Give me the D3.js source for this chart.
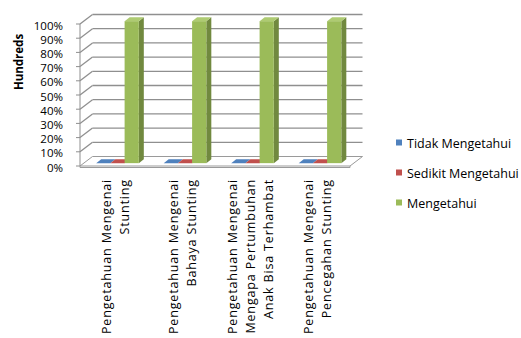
<!DOCTYPE html>
<html><head><meta charset="utf-8">
<script src="https://cdn.jsdelivr.net/npm/d3@7"></script>
<style>body{margin:0;background:#fff}svg{display:block}text{font-family:"Open Sans",sans-serif;fill:#000}</style>
</head><body>
<svg id="c" width="521" height="338"></svg>
<script>
const categories = [
  ["Pengetahuan Mengenai","Stunting"],
  ["Pengetahuan Mengenai","Bahaya Stunting"],
  ["Pengetahuan Mengenai","Mengapa Pertumbuhan","Anak Bisa Terhambat"],
  ["Pengetahuan Mengenai","Pencegahan Stunting"]
];
const seriesNames = ["Tidak Mengetahui","Sedikit Mengetahui","Mengetahui"];
const tidak = [0,0,0,0];
const sedikit = [0,0,0,0];
const mengetahui = [100,100,100,100];
const yTicks = [0,10,20,30,40,50,60,70,80,90,100];
const yTitle = "Hundreds";

const colors = ["#4F81BD","#C0504D","#9BBB59"];
const sideColors = ["#3A6190","#933B39","#71893F"];
const topColors = ["#6E96CC","#CC6E6C","#AECB72"];
const series = [tidak, sedikit, mengetahui];

const svg = d3.select("#c");
const DX = 12.5, DY = -9.5;
const x0 = d3.scaleBand().domain(d3.range(categories.length)).range([80,350]).padding(0);
const x1 = d3.scaleBand().domain(d3.range(3)).range([0,x0.bandwidth()]).paddingInner(0).paddingOuter(0.875);
const y = d3.scaleLinear().domain([0,100]).range([166,24]);

const grid = svg.append("g");
const f0 = y(0);
grid.append("path")
  .attr("d", `M80,${f0+1.5}L80,${f0}L${80+DX},${f0+DY}L${350+DX},${f0+DY}L350,${f0}L350,${f0+1.5}Z`)
  .attr("fill","#fff").attr("stroke","#9a9a9a").attr("stroke-width",1);
grid.append("line").attr("x1",80).attr("x2",350).attr("y1",f0).attr("y2",f0).attr("stroke","#9a9a9a");
yTicks.forEach(t => {
  const yy = y(t);
  if (t>0) {
    grid.append("line").attr("x1",80+DX).attr("x2",350+DX).attr("y1",yy+DY).attr("y2",yy+DY)
      .attr("stroke","#8f8f8f").attr("stroke-width",1.3);
    grid.append("line").attr("x1",80).attr("x2",80+DX).attr("y1",yy).attr("y2",yy+DY)
      .attr("stroke","#8f8f8f").attr("stroke-width",1.3);
  }
  grid.append("line").attr("x1",76).attr("x2",80).attr("y1",yy).attr("y2",yy).attr("stroke","#8f8f8f");
  svg.append("text").attr("x",63).attr("y",yy+1).attr("text-anchor","end")
    .attr("dominant-baseline","central").style("font-size","11.5px").text(t+"%");
});
grid.append("line").attr("x1",80).attr("x2",80).attr("y1",y(100)).attr("y2",y(0)).attr("stroke","#8f8f8f");

const fa = 0.3, fb = 0.7;
categories.forEach((c,i) => {
  series.forEach((s,k) => {
    const xl = x0(i) + x1(k), xr = xl + x1.bandwidth();
    const yt = y(s[i]), yb = y(0);
    const ax = DX*fa, ay = DY*fa, bx = DX*fb, by = DY*fb;
    const g = svg.append("g");
    if (s[i] > 0) {
      g.append("path").attr("d",`M${xr+ax},${yt+ay}L${xr+bx},${yt+by}L${xr+bx},${yb+by}L${xr+ax},${yb+ay}Z`)
        .attr("fill",sideColors[k]);
      g.append("rect").attr("x",xl+ax).attr("y",yt+ay).attr("width",xr-xl).attr("height",yb-yt)
        .attr("fill",colors[k]);
    }
    g.append("path").attr("d",`M${xl+ax},${yt+ay}L${xl+bx},${yt+by}L${xr+bx},${yt+by}L${xr+ax},${yt+ay}Z`)
      .attr("fill", s[i] > 0 ? topColors[k] : colors[k]);
  });
});

svg.append("text").attr("transform","translate(18,62) rotate(-90)").attr("text-anchor","middle")
  .attr("dominant-baseline","central").style("font-size","11.5px").style("font-weight","bold").text(yTitle);

categories.forEach((lines,i) => {
  const cx = x0(i) + x0.bandwidth()/2 + 1.5;
  lines.forEach((ln,j) => {
    const xx = cx + (j - (lines.length-1)/2)*18;
    svg.append("text").attr("transform",`translate(${xx},179) rotate(-90)`)
      .attr("text-anchor","end").attr("dominant-baseline","central")
      .style("font-size","12.5px").style("letter-spacing","0.85px").text(ln);
  });
});

seriesNames.forEach((n,k) => {
  const yy = 143 + k*30;
  svg.append("rect").attr("x",396).attr("y",yy-3.5).attr("width",6).attr("height",6).attr("fill",colors[k]);
  svg.append("text").attr("x",407).attr("y",yy).attr("dominant-baseline","central")
    .style("font-size","12.5px").text(n);
});
</script>
</body></html>
